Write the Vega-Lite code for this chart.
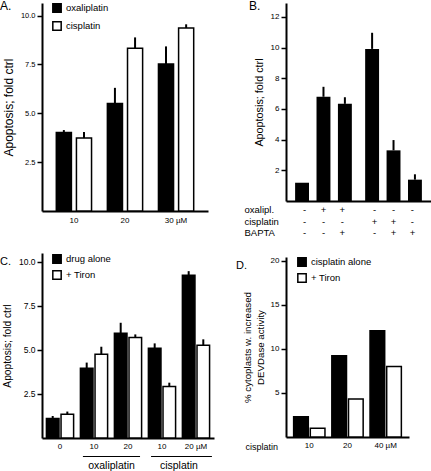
{
  "$schema": "https://vega.github.io/schema/vega-lite/v6.json",
  "padding": 0,
  "background": "white",
  "config": {
    "font": "Liberation Sans",
    "view": {"stroke": null},
    "axis": {"domainColor": "black", "tickColor": "black", "labelColor": "black", "titleColor": "black", "domainWidth": 2, "tickWidth": 1.5, "tickSize": 5, "labelPadding": 2, "grid": false, "titleFontWeight": "normal", "labelFontSize": 8, "labelOverlap": false},
    "legend": {"symbolType": "square", "symbolSize": 70, "symbolStrokeColor": "black", "symbolStrokeWidth": 1.5, "labelFontSize": 9.5, "labelOffset": 4, "rowPadding": 0, "padding": 0, "labelColor": "black"},
    "title": {"fontWeight": "normal", "fontSize": 12, "color": "black", "anchor": "start", "frame": "group"}
  },
  "resolve": {"scale": {"x": "independent", "y": "independent", "xOffset": "independent", "fill": "independent"}, "axis": {"x": "independent", "y": "independent"}, "legend": {"fill": "independent"}},
  "hconcat": [
    {
      "bounds": "flush",
      "spacing": 42,
      "resolve": {"scale": {"x": "independent", "y": "independent", "xOffset": "independent", "fill": "independent"}, "axis": {"x": "independent", "y": "independent"}, "legend": {"fill": "independent"}},
      "vconcat": [
        {
          "width": 166,
          "height": 208,
          "title": {"text": "A.", "dx": -42, "offset": -10},
          "data": {"values": [
            {"dose": "10", "drug": "oxaliplatin", "value": 4.02, "upper": 4.14},
            {"dose": "10", "drug": "cisplatin", "value": 3.73, "upper": 4.04},
            {"dose": "20", "drug": "oxaliplatin", "value": 5.5, "upper": 6.3},
            {"dose": "20", "drug": "cisplatin", "value": 8.32, "upper": 8.88},
            {"dose": "30  µM", "drug": "oxaliplatin", "value": 7.52, "upper": 8.42},
            {"dose": "30  µM", "drug": "cisplatin", "value": 9.36, "upper": 9.55}
          ]},
          "encoding": {
            "x": {"field": "dose", "type": "nominal", "sort": ["10", "20", "30  µM"], "scale": {"paddingInner": 0.31, "paddingOuter": 0.28}, "axis": {"title": null, "ticks": false, "labelAngle": 0, "labelPadding": 5}},
            "xOffset": {"field": "drug", "sort": ["oxaliplatin", "cisplatin"], "scale": {"paddingInner": 0.25}},
            "y": {"field": "value", "type": "quantitative", "scale": {"domain": [0, 10.64], "nice": false}, "axis": {"title": "Apoptosis; fold ctrl", "titleFontSize": 12, "values": [2.5, 5, 7.5, 10], "tickCount": 20, "format": ".1f", "labelFontSize": 7.5, "titlePadding": 5}}
          },
          "layer": [
            {
              "mark": {"type": "bar", "stroke": "black", "strokeWidth": 1.5},
              "encoding": {
                "fill": {"field": "drug", "type": "nominal", "scale": {"domain": ["oxaliplatin", "cisplatin"], "range": ["black", "white"]}, "legend": {"title": null, "orient": "none", "legendX": 10, "legendY": 0, "rowPadding": 2}}
              }
            },
            {
              "mark": {"type": "rule", "strokeWidth": 2, "color": "black"},
              "encoding": {"y2": {"field": "upper"}}
            }
          ]
        },
        {
          "bounds": "flush",
          "spacing": 14,
          "resolve": {"scale": {"x": "independent", "y": "independent", "xOffset": "independent", "fill": "independent"}, "axis": {"x": "independent", "y": "independent"}, "legend": {"fill": "independent"}},
          "vconcat": [
            {
              "width": 172,
              "height": 185,
              "title": {"text": "C.", "dx": -42, "offset": -14, "fontSize": 11},
              "data": {"values": [
                {"grp": "0", "cond": "drug alone", "value": 1.1, "upper": 1.25},
                {"grp": "0", "cond": "+ Tiron", "value": 1.35, "upper": 1.5},
                {"grp": "ox10", "cond": "drug alone", "value": 3.96, "upper": 4.28},
                {"grp": "ox10", "cond": "+ Tiron", "value": 4.75, "upper": 5.18},
                {"grp": "ox20", "cond": "drug alone", "value": 5.94, "upper": 6.54},
                {"grp": "ox20", "cond": "+ Tiron", "value": 5.71, "upper": 5.88},
                {"grp": "cis10", "cond": "drug alone", "value": 5.09, "upper": 5.37},
                {"grp": "cis10", "cond": "+ Tiron", "value": 2.92, "upper": 3.14},
                {"grp": "cis20", "cond": "drug alone", "value": 9.24, "upper": 9.47},
                {"grp": "cis20", "cond": "+ Tiron", "value": 5.26, "upper": 5.6}
              ]},
              "encoding": {
                "x": {"field": "grp", "type": "nominal", "sort": ["0", "ox10", "ox20", "cis10", "cis20"], "scale": {"paddingInner": 0.2, "paddingOuter": 0.13}, "axis": {"title": null, "ticks": false, "labelAngle": 0, "labelPadding": 4, "labelExpr": "datum.value == 'cis20' ? '20 µM' : replace(replace(datum.value, 'ox', ''), 'cis', '')"}},
                "xOffset": {"field": "cond", "sort": ["drug alone", "+ Tiron"], "scale": {"paddingInner": 0.14}},
                "y": {"field": "value", "type": "quantitative", "scale": {"domain": [0, 10.5], "nice": false}, "axis": {"title": "Apoptosis; fold ctrl", "titleFontSize": 10.2, "values": [2.5, 5, 7.5, 10], "tickCount": 20, "format": ".1f", "labelFontSize": 8.5, "titlePadding": 6}}
              },
              "layer": [
                {
                  "mark": {"type": "bar", "stroke": "black", "strokeWidth": 1.5},
                  "encoding": {
                    "fill": {"field": "cond", "type": "nominal", "scale": {"domain": ["drug alone", "+ Tiron"], "range": ["black", "white"]}, "legend": {"title": null, "orient": "none", "legendX": 10, "legendY": 1}}
                  }
                },
                {
                  "mark": {"type": "rule", "strokeWidth": 2, "color": "black"},
                  "encoding": {"y2": {"field": "upper"}}
                }
              ]
            },
            {
              "width": 172,
              "height": 18,
              "data": {"values": [
                {"label": "oxaliplatin", "start": 1.19, "end": 2.85, "mid": 2.02},
                {"label": "cisplatin", "start": 3.17, "end": 4.94, "mid": 3.98}
              ]},
              "layer": [
                {
                  "mark": {"type": "rule", "color": "black", "strokeWidth": 1},
                  "encoding": {
                    "x": {"field": "start", "type": "quantitative", "scale": {"domain": [0, 5], "nice": false}, "axis": null},
                    "x2": {"field": "end"},
                    "y": {"datum": 1.5, "type": "quantitative", "scale": {"domain": [0, 2]}, "axis": null}
                  }
                },
                {
                  "mark": {"type": "text", "fontSize": 10.5, "color": "black", "baseline": "middle"},
                  "encoding": {
                    "x": {"field": "mid", "type": "quantitative"},
                    "y": {"datum": 0.5, "type": "quantitative"},
                    "text": {"field": "label"}
                  }
                }
              ]
            }
          ]
        }
      ]
    },
    {
      "bounds": "flush",
      "spacing": 3,
      "resolve": {"scale": {"x": "independent", "y": "independent", "xOffset": "independent", "fill": "independent"}, "axis": {"x": "independent", "y": "independent"}, "legend": {"fill": "independent"}},
      "vconcat": [
        {
          "width": 145,
          "height": 198,
          "title": {"text": "B.", "dx": -37, "offset": -10},
          "data": {"values": [
            {"grp": "g1", "pos": "a", "value": 1.19, "upper": 1.19},
            {"grp": "g1", "pos": "b", "value": 6.79, "upper": 7.44},
            {"grp": "g1", "pos": "c", "value": 6.33, "upper": 6.76},
            {"grp": "g2", "pos": "a", "value": 9.91, "upper": 10.96},
            {"grp": "g2", "pos": "b", "value": 3.3, "upper": 3.97},
            {"grp": "g2", "pos": "c", "value": 1.39, "upper": 1.74}
          ]},
          "encoding": {
            "x": {"field": "grp", "type": "nominal", "sort": ["g1", "g2"], "scale": {"paddingInner": 0.19, "paddingOuter": 0.13}, "axis": {"title": null, "ticks": false, "labels": false}},
            "xOffset": {"field": "pos", "sort": ["a", "b", "c"], "scale": {"paddingInner": 0.35}},
            "y": {"field": "value", "type": "quantitative", "scale": {"domain": [0, 12.9], "nice": false}, "axis": {"title": "Apoptosis; fold ctrl", "titleFontSize": 10.8, "values": [2, 4, 6, 8, 10, 12], "tickCount": 20, "format": "d", "labelFontSize": 8, "titlePadding": 6}}
          },
          "layer": [
            {
              "mark": {"type": "bar", "color": "black"}
            },
            {
              "mark": {"type": "rule", "strokeWidth": 2, "color": "black"},
              "encoding": {"y2": {"field": "upper"}}
            }
          ]
        },
        {
          "width": 145,
          "height": 50,
          "data": {"values": [
            {"grp": "g1", "pos": "a", "row": "oxalipl.", "sign": "-"},
            {"grp": "g1", "pos": "b", "row": "oxalipl.", "sign": "+"},
            {"grp": "g1", "pos": "c", "row": "oxalipl.", "sign": "+"},
            {"grp": "g2", "pos": "a", "row": "oxalipl.", "sign": "-"},
            {"grp": "g2", "pos": "b", "row": "oxalipl.", "sign": "-"},
            {"grp": "g2", "pos": "c", "row": "oxalipl.", "sign": "-"},
            {"grp": "g1", "pos": "a", "row": "cisplatin", "sign": "-"},
            {"grp": "g1", "pos": "b", "row": "cisplatin", "sign": "-"},
            {"grp": "g1", "pos": "c", "row": "cisplatin", "sign": "-"},
            {"grp": "g2", "pos": "a", "row": "cisplatin", "sign": "+"},
            {"grp": "g2", "pos": "b", "row": "cisplatin", "sign": "+"},
            {"grp": "g2", "pos": "c", "row": "cisplatin", "sign": "-"},
            {"grp": "g1", "pos": "a", "row": "BAPTA", "sign": "-"},
            {"grp": "g1", "pos": "b", "row": "BAPTA", "sign": "-"},
            {"grp": "g1", "pos": "c", "row": "BAPTA", "sign": "+"},
            {"grp": "g2", "pos": "a", "row": "BAPTA", "sign": "-"},
            {"grp": "g2", "pos": "b", "row": "BAPTA", "sign": "+"},
            {"grp": "g2", "pos": "c", "row": "BAPTA", "sign": "+"}
          ]},
          "mark": {"type": "text", "fontSize": 9.5, "color": "black", "baseline": "middle"},
          "encoding": {
            "x": {"field": "grp", "type": "nominal", "sort": ["g1", "g2"], "scale": {"paddingInner": 0.19, "paddingOuter": 0.13}, "axis": null},
            "xOffset": {"field": "pos", "sort": ["a", "b", "c"], "scale": {"paddingInner": 0.35}},
            "y": {"field": "row", "type": "nominal", "sort": ["oxalipl.", "cisplatin", "BAPTA"], "scale": {"type": "band", "paddingInner": 0, "paddingOuter": 0.637, "align": 0}, "axis": {"title": null, "domain": false, "ticks": false, "tickSize": 0, "labelAlign": "left", "labelPadding": 42, "labelFontSize": 9.5}},
            "text": {"field": "sign"}
          }
        },
        {
          "width": 123,
          "height": 180,
          "title": {"text": "D.", "dx": -50, "offset": -14, "fontSize": 11},
          "data": {"values": [
            {"dose": "10", "cond": "cisplatin alone", "value": 2.3},
            {"dose": "10", "cond": "+ Tiron", "value": 1.0},
            {"dose": "20", "cond": "cisplatin alone", "value": 9.2},
            {"dose": "20", "cond": "+ Tiron", "value": 4.3},
            {"dose": "40  µM", "cond": "cisplatin alone", "value": 12.05},
            {"dose": "40  µM", "cond": "+ Tiron", "value": 8.0}
          ]},
          "mark": {"type": "bar", "stroke": "black", "strokeWidth": 1.5},
          "encoding": {
            "x": {"field": "dose", "type": "nominal", "sort": ["10", "20", "40  µM"], "scale": {"paddingInner": 0.18, "paddingOuter": 0.2}, "axis": {"title": "cisplatin", "titleFontSize": 9, "titleAnchor": "start", "titleAlign": "left", "titleX": -41, "titleY": 5, "titleBaseline": "top", "ticks": false, "labelAngle": 0, "labelPadding": 4}},
            "xOffset": {"field": "cond", "sort": ["cisplatin alone", "+ Tiron"], "scale": {"paddingInner": 0.12}},
            "y": {"field": "value", "type": "quantitative", "scale": {"domain": [0, 20.4], "nice": false}, "axis": {"title": ["% cytoplasts w. increased", "DEVDase activity"], "titleFontSize": 9.7, "titleLineHeight": 13, "values": [5, 10, 15, 20], "tickCount": 20, "format": "d", "labelFontSize": 8, "titlePadding": 5}},
            "fill": {"field": "cond", "type": "nominal", "scale": {"domain": ["cisplatin alone", "+ Tiron"], "range": ["black", "white"]}, "legend": {"title": null, "orient": "none", "legendX": 11, "legendY": 0}}
          }
        }
      ]
    }
  ],
  "spacing": 244,
  "bounds": "flush"
}
